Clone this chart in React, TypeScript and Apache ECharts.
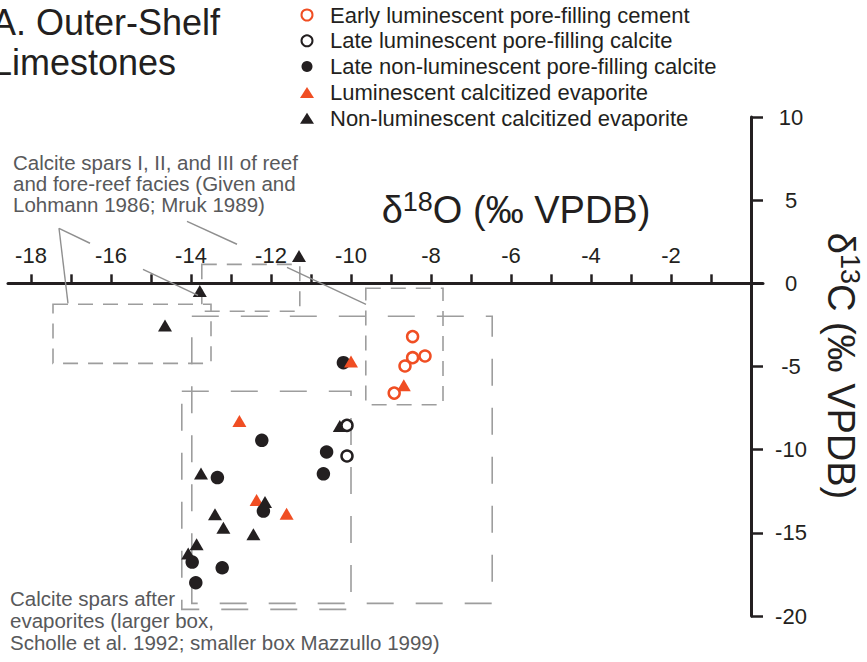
import React, { useEffect, useRef } from 'react';
import * as echarts from 'echarts';

const FONT = '"Liberation Sans", Arial, Helvetica, sans-serif';
const INK = '#231f20';
const ORANGE = '#f04e23';
const GRAY_BOX = '#9d9d9d';
const GRAY_LINE = '#8f8f8f';
const GRAY_TEXT = '#58595b';

// Series names (legend order)
const legendNames = [
  'Early luminescent pore-filling cement',
  'Late luminescent pore-filling calcite',
  'Late non-luminescent pore-filling calcite',
  'Luminescent calcitized evaporite',
  'Non-luminescent calcitized evaporite',
];

// [δ18O, δ13C]
const earlyLum = [[-8.46, -3.2], [-8.46, -4.47], [-8.15, -4.37], [-8.65, -4.97], [-8.92, -6.6]];
const lateLum = [[-10.1, -8.54], [-10.1, -10.38]];
const lateNonLum = [
  [-10.19, -4.77], [-10.61, -10.14], [-10.69, -11.45], [-12.23, -9.44], [-13.34, -11.68],
  [-12.19, -13.69], [-13.97, -16.76], [-13.22, -17.1], [-13.88, -18.0],
];
const lumEvap = [[-10.0, -4.7], [-8.68, -6.13], [-12.79, -8.28], [-12.36, -13.03], [-11.61, -13.85]];
const nonLumEvap = [
  [-11.3, 1.64], [-13.78, -0.46], [-14.65, -2.53], [-10.28, -8.57], [-13.75, -11.43],
  [-12.15, -13.15], [-13.4, -13.89], [-13.19, -14.69], [-12.44, -15.09], [-13.86, -15.69],
  [-14.07, -16.24],
];

// Reference fields: [x1, y1, x2, y2]
const reefBoxes = [
  [-17.45, -1.26, -13.5, -4.81],
  [-13.73, 1.14, -11.28, -1.68],
  [-9.63, -0.3, -7.7, -7.3],
];
const evapBoxes = [
  [-13.98, -1.98, -6.47, -19.24],
  [-14.23, -6.49, -10.0, -19.6],
];
// Leader lines (visible segments): [x1, y1, x2, y2]
const leaders = [
  [-17.3, 3.31, -17.075, -1.2],
  [-17.3, 3.31, -16.525, 2.41],
  [-15.2, 0.84, -13.825, -0.72],
  [-14.1, 3.73, -12.85, 2.35],
  [-11.6, 0.96, -9.625, -1.26],
];

// Axis ticks
const xTickValues = [-18, -17, -16, -15, -14, -13, -12, -11, -10, -9, -8, -7, -6, -5, -4, -3, -2, -1];
const xLabelValues = [-18, -16, -14, -12, -10, -8, -6, -4, -2];

const boxData = (boxes: number[][]) =>
  boxes.map((b) => [{ coord: [b[0], b[1]] }, { coord: [b[2], b[3]] }]);

export default function App() {
  const ref = useRef<HTMLDivElement>(null);
  useEffect(() => {
    const chart = echarts.init(ref.current!, null, { renderer: 'svg' });
    const option: any = {
      animation: false,
      backgroundColor: '#ffffff',
      grid: { left: 8, right: 104, top: 117, bottom: 46 },
      legend: {
        orient: 'vertical',
        left: 300,
        top: 4,
        padding: 0,
        itemWidth: 14,
        itemHeight: 11,
        itemGap: 3.8,
        selectedMode: false,
        textStyle: { fontSize: 22, color: INK, fontFamily: FONT, padding: [0, 0, 0, 11] },
        data: legendNames,
      },
      xAxis: {
        type: 'value',
        position: 'top',
        min: -18.575,
        max: 0.3,
        axisLine: { onZero: true, lineStyle: { color: INK, width: 3 } },
        axisTick: {
          show: true,
          length: 9,
          inside: false,
          customValues: xTickValues,
          lineStyle: { color: INK, width: 2.5 },
        },
        axisLabel: {
          customValues: xLabelValues,
          fontSize: 22,
          color: INK,
          fontFamily: FONT,
          margin: -138,
          verticalAlign: 'middle',
        },
        splitLine: { show: false },
      },
      yAxis: {
        type: 'value',
        position: 'right',
        min: -20,
        max: 10,
        interval: 5,
        axisLine: { onZero: true, lineStyle: { color: INK, width: 3 } },
        axisTick: { show: true, length: 12, inside: false, lineStyle: { color: INK, width: 2.5 } },
        axisLabel: { fontSize: 22, color: INK, fontFamily: FONT, margin: 28, align: 'center' },
        splitLine: { show: false },
      },
      graphic: [
        {
          type: 'text', x: -8, y: 2,
          style: { text: 'A. Outer-Shelf\nLimestones', fontSize: 36, lineHeight: 40, fontFamily: FONT, fill: INK, align: 'left', verticalAlign: 'top' },
        },
        {
          type: 'text', x: 13, y: 151.5,
          style: {
            text: 'Calcite spars I, II, and III of reef\nand fore-reef facies (Given and\nLohmann 1986; Mruk 1989)',
            fontSize: 20.5, lineHeight: 21, fontFamily: FONT, fill: GRAY_TEXT, align: 'left', verticalAlign: 'top',
          },
        },
        {
          type: 'text', x: 10, y: 587,
          style: {
            text: 'Calcite spars after\nevaporites (larger box,\nScholle et al. 1992; smaller box Mazzullo 1999)',
            fontSize: 20.5, lineHeight: 22, fontFamily: FONT, fill: GRAY_TEXT, align: 'left', verticalAlign: 'top',
          },
        },
        {
          type: 'text', x: 516, y: 210,
          style: {
            text: '{a|δ}{s|18}{a|O (‰ VPDB)}', align: 'center', verticalAlign: 'middle',
            rich: {
              a: { fontSize: 38, lineHeight: 44, fontFamily: FONT, fill: INK },
              s: { fontSize: 27, lineHeight: 24, fontFamily: FONT, fill: INK, verticalAlign: 'top' },
            },
          },
        },
        {
          type: 'text', x: 841, y: 366, rotation: -Math.PI / 2,
          style: {
            text: '{a|δ}{s|13}{a|C (‰ VPDB)}', align: 'center', verticalAlign: 'middle',
            rich: {
              a: { fontSize: 38, lineHeight: 44, fontFamily: FONT, fill: INK },
              s: { fontSize: 27, lineHeight: 24, fontFamily: FONT, fill: INK, verticalAlign: 'top' },
            },
          },
        },
      ],
      series: [
        {
          type: 'scatter', name: 'reefFields', data: [], silent: true,
          markArea: {
            silent: true,
            label: { show: false },
            itemStyle: { color: 'rgba(0,0,0,0)', borderColor: GRAY_BOX, borderWidth: 1.6, borderType: [15, 10] },
            emphasis: { disabled: true },
            data: boxData(reefBoxes),
          },
          markLine: {
            silent: true,
            symbol: ['none', 'none'],
            label: { show: false },
            lineStyle: { color: GRAY_LINE, width: 1.4, type: 'solid' },
            emphasis: { disabled: true },
            data: leaders.map((l) => [{ coord: [l[0], l[1]] }, { coord: [l[2], l[3]] }]),
          },
        },
        {
          type: 'scatter', name: 'evapFields', data: [], silent: true,
          markArea: {
            silent: true,
            label: { show: false },
            itemStyle: { color: 'rgba(0,0,0,0)', borderColor: GRAY_BOX, borderWidth: 1.6, borderType: [27, 22] },
            emphasis: { disabled: true },
            data: boxData(evapBoxes),
          },
        },
        {
          type: 'scatter', name: legendNames[2], data: lateNonLum, symbol: 'circle', symbolSize: 13.5,
          itemStyle: { color: INK, opacity: 1 },
        },
        {
          type: 'scatter', name: legendNames[3], data: lumEvap, symbol: 'triangle', symbolSize: [14, 12],
          itemStyle: { color: ORANGE, opacity: 1 },
        },
        {
          type: 'scatter', name: legendNames[4], data: nonLumEvap, symbol: 'triangle', symbolSize: [14, 12],
          itemStyle: { color: INK, opacity: 1 },
        },
        {
          type: 'scatter', name: legendNames[1], data: lateLum, symbol: 'circle', symbolSize: 11,
          itemStyle: { color: '#ffffff', borderColor: INK, borderWidth: 2.5, opacity: 1 },
        },
        {
          type: 'scatter', name: legendNames[0], data: earlyLum, symbol: 'circle', symbolSize: 11,
          itemStyle: { color: '#ffffff', borderColor: ORANGE, borderWidth: 2.5, opacity: 1 },
        },
      ],
    };
    chart.setOption(option);
    return () => chart.dispose();
  }, []);
  return (
    <div
      ref={ref}
      style={{ position: 'fixed', left: 0, top: 0, width: 867, height: 662, background: '#fff' }}
    />
  );
}
